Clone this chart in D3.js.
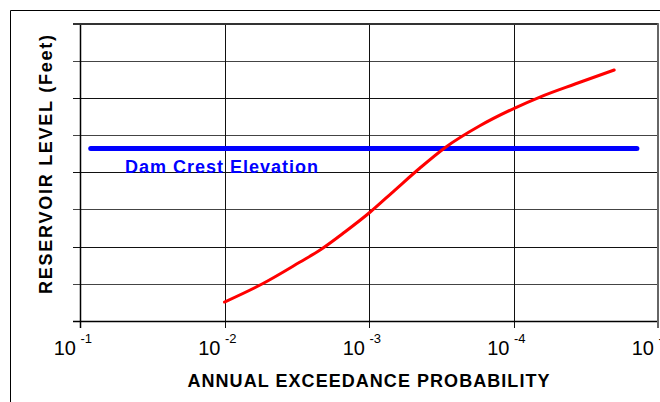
<!DOCTYPE html>
<html>
<head>
<meta charset="utf-8">
<script src="https://cdn.jsdelivr.net/npm/d3@7"></script>
<style>
  body { margin: 0; background: #fff; }
  svg { display: block; font-family: "Liberation Sans", Arial, sans-serif; }
</style>
</head>
<body>
<script>
// annual exceedance probability (x) vs reservoir level in gridline units (y)
const probTicks = [1e-1, 1e-2, 1e-3, 1e-4, 1e-5];
const tickExponents = ["-1", "-2", "-3", "-4", "-5"];
const levelTicks = [0, 1, 2, 3, 4, 5, 6, 7, 8];

const curveProb = [0.01, 0.0055, 0.0030, 0.00218, 0.00147, 0.00098, 0.000661,
  0.000444, 0.000298, 0.000171, 0.000098, 0.0000656, 0.0000375, 0.0000201];
const curveLevel = [0.51, 0.995, 1.586, 1.909, 2.393, 2.931, 3.522,
  4.114, 4.66, 5.25, 5.727, 6.023, 6.373, 6.749];

const crestProb = [0.0843, 0.000014];
const crestLevel = 4.64;
const crestLabel = "Dam Crest Elevation";

const W = 660, H = 402;
const mLeft = 80, mRight = 658, mTop = 23.5, mBottom = 321;

const svg = d3.select("body").append("svg")
  .attr("width", W)
  .attr("height", H);

const x = d3.scaleLog().domain([1e-1, 1e-5]).range([mLeft, mRight]);
const y = d3.scaleLinear().domain([0, 8]).range([mBottom, mTop]);

// outer frame (only left and top visible)
svg.append("path")
  .attr("d", `M10.5,${H} V10.5 H${W}`)
  .attr("fill", "none")
  .attr("stroke", "#000")
  .attr("stroke-width", 1);

// horizontal gridlines + left tick marks
svg.append("g")
  .selectAll("line")
  .data(levelTicks)
  .join("line")
  .attr("x1", mLeft - 7)
  .attr("x2", mRight)
  .attr("y1", d => Math.round(y(d)) + 0.5)
  .attr("y2", d => Math.round(y(d)) + 0.5)
  .attr("stroke", (d, i) => i % 2 ? "#444" : "#111")
  .attr("stroke-width", 1);

// vertical gridlines + bottom tick marks
svg.append("g")
  .selectAll("line")
  .data(probTicks)
  .join("line")
  .attr("x1", d => Math.round(x(d)) + 0.5)
  .attr("x2", d => Math.round(x(d)) + 0.5)
  .attr("y1", mTop)
  .attr("y2", mBottom + 7)
  .attr("stroke", "#111")
  .attr("stroke-width", 1);

// axes lines a bit heavier
svg.append("line")
  .attr("x1", mLeft + 0.5).attr("x2", mLeft + 0.5)
  .attr("y1", mTop).attr("y2", mBottom + 7)
  .attr("stroke", "#000").attr("stroke-width", 1.5);
svg.append("line")
  .attr("x1", mLeft - 7).attr("x2", mRight)
  .attr("y1", mBottom + 0.5).attr("y2", mBottom + 0.5)
  .attr("stroke", "#000").attr("stroke-width", 1.5);
svg.append("line")
  .attr("x1", mLeft - 7).attr("x2", mRight)
  .attr("y1", 24).attr("y2", 24)
  .attr("stroke", "#333").attr("stroke-width", 2);
svg.append("line")
  .attr("x1", mRight).attr("x2", mRight)
  .attr("y1", mTop).attr("y2", mBottom + 7)
  .attr("stroke", "#666").attr("stroke-width", 2);

// tick labels 10^n
const lab = svg.append("g").selectAll("g")
  .data(probTicks)
  .join("g");
lab.append("text")
  .attr("x", d => x(d) - 4)
  .attr("y", 355)
  .attr("text-anchor", "end")
  .attr("font-size", 20)
  .text("10");
lab.append("text")
  .attr("x", d => x(d) + 0.5)
  .attr("y", 343)
  .attr("font-size", 13)
  .text((d, i) => tickExponents[i]);

// dam crest line
svg.append("line")
  .attr("x1", x(crestProb[0]))
  .attr("x2", x(crestProb[1]))
  .attr("y1", y(crestLevel))
  .attr("y2", y(crestLevel))
  .attr("stroke", "#0000ff")
  .attr("stroke-width", 5)
  .attr("stroke-linecap", "round");

svg.append("text")
  .attr("x", 125)
  .attr("y", 173)
  .attr("fill", "#0000ff")
  .attr("font-weight", "bold")
  .attr("font-size", 18)
  .attr("textLength", 193)
  .attr("lengthAdjust", "spacing")
  .text(crestLabel);

// reservoir level curve
const line = d3.line()
  .x((d, i) => x(curveProb[i]))
  .y(d => y(d))
  .curve(d3.curveMonotoneX);

svg.append("path")
  .datum(curveLevel)
  .attr("d", line)
  .attr("fill", "none")
  .attr("stroke", "#ff0000")
  .attr("stroke-width", 3)
  .attr("stroke-linecap", "round");

// axis titles
svg.append("text")
  .attr("x", 368.5)
  .attr("y", 386.5)
  .attr("text-anchor", "middle")
  .attr("font-weight", "bold")
  .attr("font-size", 18)
  .attr("textLength", 362)
  .attr("lengthAdjust", "spacing")
  .text("ANNUAL EXCEEDANCE PROBABILITY");

svg.append("text")
  .attr("transform", "translate(52,164.5) rotate(-90)")
  .attr("text-anchor", "middle")
  .attr("font-weight", "bold")
  .attr("font-size", 18)
  .attr("textLength", 259)
  .attr("lengthAdjust", "spacing")
  .text("RESERVOIR LEVEL (Feet)");
</script>
</body>
</html>
